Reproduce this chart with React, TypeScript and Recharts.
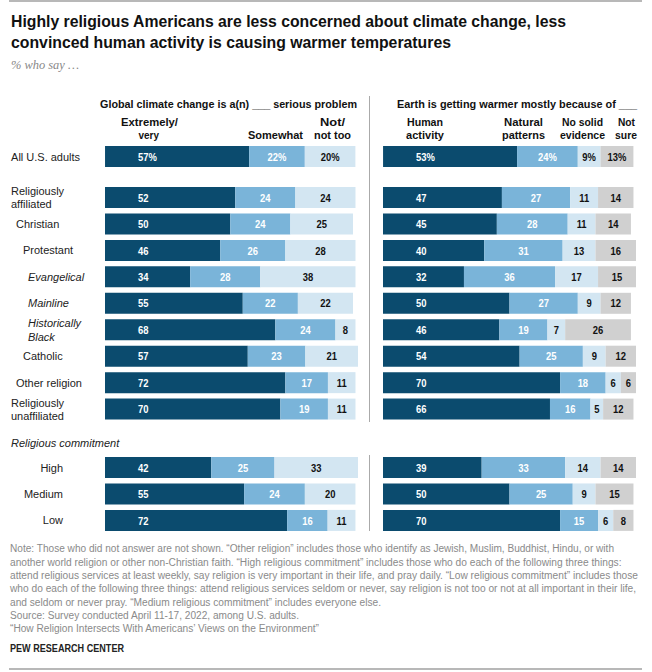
import { BarChart, Bar, XAxis, YAxis, LabelList } from "recharts";

// row categories
const overall = ["All U.S. adults"];
const religions = [
  "Religiously affiliated",
  "Christian",
  "Protestant",
  "Evangelical",
  "Mainline",
  "Historically Black",
  "Catholic",
  "Other religion",
  "Religiously unaffiliated",
];
const commitment = ["High", "Medium", "Low"];

// Global climate change is a(n) ___ serious problem
const extremely = [57, 52, 50, 46, 34, 55, 68, 57, 72, 70, 42, 55, 72];
const somewhat = [22, 24, 24, 26, 28, 22, 24, 23, 17, 19, 25, 24, 16];
const notToo = [20, 24, 25, 28, 38, 22, 8, 21, 11, 11, 33, 20, 11];

// Earth is getting warmer mostly because of ___
const human = [53, 47, 45, 40, 32, 50, 46, 54, 70, 66, 39, 50, 70];
const natural = [24, 27, 28, 31, 36, 27, 19, 25, 18, 16, 33, 25, 15];
const noEvidence = [9, 11, 11, 13, 17, 9, 7, 9, 6, 5, 14, 9, 6];
const notSure = [13, 14, 14, 16, 15, 12, 26, 12, 6, 12, 14, 15, 8];

const titleLines = [
  "Highly religious Americans are less concerned about climate change, less",
  "convinced human activity is causing warmer temperatures",
];

const notes = [
  "Note: Those who did not answer are not shown. \u201cOther religion\u201d includes those who identify as Jewish, Muslim, Buddhist, Hindu, or with",
  "another world religion or other non-Christian faith. \u201cHigh religious commitment\u201d includes those who do each of the following three things:",
  "attend religious services at least weekly, say religion is very important in their life, and pray daily. \u201cLow religious commitment\u201d includes those",
  "who do each of the following three things: attend religious services seldom or never, say religion is not too or not at all important in their life,",
  "and seldom or never pray. \u201cMedium religious commitment\u201d includes everyone else.",
  "Source: Survey conducted April 11-17, 2022, among U.S. adults.",
  "\u201cHow Religion Intersects With Americans\u2019 Views on the Environment\u201d",
];

const allCats = [...overall, ...religions, ...commitment];
const rows = allCats.map((cat, i) => ({
  cat,
  extremely: extremely[i],
  somewhat: somewhat[i],
  notToo: notToo[i],
  human: human[i],
  natural: natural[i],
  noEvidence: noEvidence[i],
  notSure: notSure[i],
}));

const FONT = '"Liberation Sans", Arial, sans-serif';
const DARK = "#0b4b6e";
const MID = "#7ab4d9";
const LIGHT = "#d3e6f2";
const GRAY = "#d0d0d0";
const ROW = 26.45;

// label layout (not data)
const indent: Record<string, number> = {
  Christian: 5,
  Protestant: 12,
  Evangelical: 17,
  Mainline: 17,
  "Historically Black": 17,
  Catholic: 12,
  "Other religion": 5,
};
const italicRows = new Set(["Evangelical", "Mainline", "Historically Black"]);
const twoLine: Record<string, string[]> = {
  "Religiously affiliated": ["Religiously", "affiliated"],
  "Historically Black": ["Historically", "Black"],
  "Religiously unaffiliated": ["Religiously", "unaffiliated"],
};

// column headers: text, left x, right x, baseline
const heads: [string, number, number, number][] = [
  ["Global climate change is a(n) ___ serious problem", 100, 357, 107.5],
  ["Earth is getting warmer mostly because of ___", 397, 637, 107.5],
  ["Extremely/", 121, 178, 126],
  ["very", 138.5, 159, 139],
  ["Somewhat", 248, 303, 139],
  ["Not/", 320, 345, 126],
  ["not too", 314, 351, 139],
  ["Human", 407, 443, 126],
  ["activity", 406, 444, 139],
  ["Natural", 504, 543, 126],
  ["patterns", 502, 545, 139],
  ["No solid", 562, 603, 126],
  ["evidence", 560, 605, 139],
  ["Not", 618, 635, 126],
  ["sure", 615, 637, 139],
];
const noteEnds = [614, 621.5, 638, 636, 381, 299, 319];

const RowTick = (props: any) => {
  const { y, payload } = props;
  const name: string = payload.value;
  const right = commitment.includes(name);
  const lines = twoLine[name] || [name];
  const x = right ? 63 : 11 + (indent[name] || 0);
  return (
    <text
      x={x}
      y={y}
      textAnchor={right ? "end" : "start"}
      fontFamily={FONT}
      fontSize={11}
      fill="#222"
      fontStyle={italicRows.has(name) ? "italic" : "normal"}
    >
      {lines.map((l, i) => (
        <tspan key={i} x={x} dy={i === 0 ? (lines.length === 1 ? 4.3 : -2.2) : 13.3}>
          {l}
        </tspan>
      ))}
    </text>
  );
};

const makeLabel = (color: string, atStart: boolean, pct: boolean) => (props: any) => {
  const { x, y, width, height, value } = props;
  if (value == null) return null;
  const tx = atStart ? x + 33 : x + width / 2;
  return (
    <text
      transform={`translate(${tx},${y + height / 2 + 4.2}) scale(0.82,1)`}
      textAnchor={atStart ? "start" : "middle"}
      fill={color}
      fontFamily={FONT}
      fontWeight="bold"
      fontSize={11.5}
    >
      {value}
      {pct ? "%" : ""}
    </text>
  );
};

const Section = ({ data, top, pct }: { data: any[]; top: number; pct: boolean }) => (
  <>
    <div style={{ position: "absolute", left: 0, top }}>
      <BarChart
        layout="vertical"
        width={358}
        height={data.length * ROW}
        data={data}
        margin={{ top: 0, right: 0, bottom: 0, left: 0 }}
        barSize={21}
      >
        <XAxis type="number" domain={[0, 100]} hide />
        <YAxis
          type="category"
          dataKey="cat"
          width={105}
          axisLine={false}
          tickLine={false}
          interval={0}
          tick={<RowTick />}
        />
        <Bar dataKey="extremely" stackId="a" fill={DARK} isAnimationActive={false}>
          <LabelList dataKey="extremely" content={makeLabel("#fff", true, pct)} />
        </Bar>
        <Bar dataKey="somewhat" stackId="a" fill={MID} isAnimationActive={false}>
          <LabelList dataKey="somewhat" content={makeLabel("#fff", false, pct)} />
        </Bar>
        <Bar dataKey="notToo" stackId="a" fill={LIGHT} isAnimationActive={false}>
          <LabelList dataKey="notToo" content={makeLabel("#111", false, pct)} />
        </Bar>
      </BarChart>
    </div>
    <div style={{ position: "absolute", left: 383, top }}>
      <BarChart
        layout="vertical"
        width={253}
        height={data.length * ROW}
        data={data}
        margin={{ top: 0, right: 0, bottom: 0, left: 0 }}
        barSize={21}
      >
        <XAxis type="number" domain={[0, 100]} hide />
        <YAxis type="category" dataKey="cat" hide />
        <Bar dataKey="human" stackId="b" fill={DARK} isAnimationActive={false}>
          <LabelList dataKey="human" content={makeLabel("#fff", true, pct)} />
        </Bar>
        <Bar dataKey="natural" stackId="b" fill={MID} isAnimationActive={false}>
          <LabelList dataKey="natural" content={makeLabel("#fff", false, pct)} />
        </Bar>
        <Bar dataKey="noEvidence" stackId="b" fill={LIGHT} isAnimationActive={false}>
          <LabelList dataKey="noEvidence" content={makeLabel("#111", false, pct)} />
        </Bar>
        <Bar dataKey="notSure" stackId="b" fill={GRAY} isAnimationActive={false}>
          <LabelList dataKey="notSure" content={makeLabel("#111", false, pct)} />
        </Bar>
      </BarChart>
    </div>
  </>
);

export default function App() {
  return (
    <div
      style={{
        position: "absolute",
        left: 0,
        top: 0,
        width: 652,
        height: 672,
        background: "#fff",
        overflow: "hidden",
      }}
    >
      <Section data={rows.slice(0, 1)} top={156.5 - ROW / 2} pct={true} />
      <Section data={rows.slice(1, 10)} top={197.2 - ROW / 2} pct={false} />
      <Section data={rows.slice(10)} top={467 - ROW / 2} pct={false} />

      <svg
        width={652}
        height={672}
        style={{ position: "absolute", left: 0, top: 0, pointerEvents: "none" }}
        fontFamily={FONT}
      >
        <rect x={9} y={0} width={633} height={2} fill="#b8b8b8" />
        {titleLines.map((t, i) => (
          <text
            key={t}
            x={11}
            y={27.3 + i * 20.4}
            fontSize={16}
            fontWeight="bold"
            fill="#111"
            textLength={i === 0 ? 555 : 440}
            lengthAdjust="spacingAndGlyphs"
          >
            {t}
          </text>
        ))}
        <text
          x={11}
          y={69}
          fontFamily='"Liberation Serif", serif'
          fontStyle="italic"
          fontSize={12}
          fill="#888"
          textLength={68}
          lengthAdjust="spacingAndGlyphs"
        >
          % who say …
        </text>

        {heads.map(([t, x1, x2, by]) => (
          <text
            key={t}
            x={x1}
            y={by}
            fontSize={11.5}
            fontWeight="bold"
            fill="#111"
            textLength={x2 - x1}
            lengthAdjust="spacingAndGlyphs"
          >
            {t}
          </text>
        ))}

        <line x1={369.5} x2={369.5} y1={96} y2={422} stroke="#aaa" strokeWidth={1} />
        <line x1={369.5} x2={369.5} y1={455} y2={531} stroke="#aaa" strokeWidth={1} />

        <text x={11} y={447} fontSize={11} fontStyle="italic" fill="#222">
          Religious commitment
        </text>

        {notes.map((n, i) => (
          <text
            key={i}
            x={10}
            y={552.3 + i * 13.35}
            fontSize={10}
            fill="#8a8a8a"
            textLength={noteEnds[i] - 10}
            lengthAdjust="spacingAndGlyphs"
          >
            {n}
          </text>
        ))}
        <text
          x={10}
          y={652}
          fontSize={10.5}
          fontWeight="bold"
          fill="#222"
          textLength={114}
          lengthAdjust="spacingAndGlyphs"
        >
          PEW RESEARCH CENTER
        </text>
        <rect x={9} y={668} width={633} height={2} fill="#b8b8b8" />
      </svg>
    </div>
  );
}
